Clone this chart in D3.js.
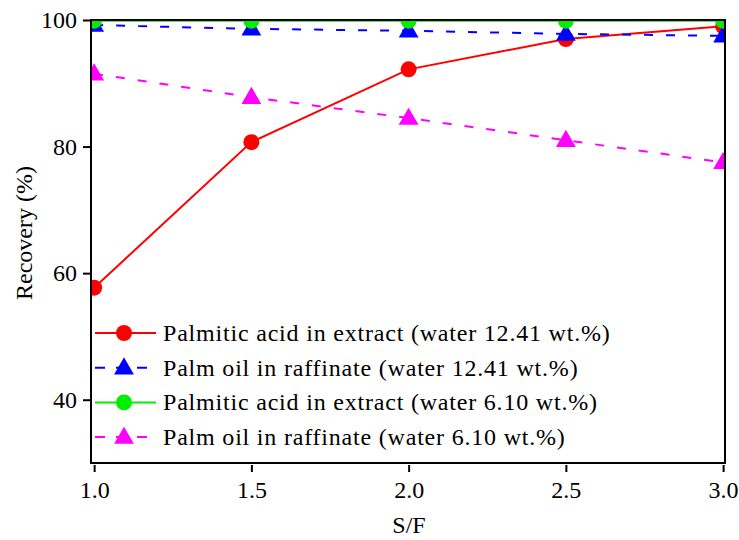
<!DOCTYPE html>
<html>
<head>
<meta charset="utf-8">
<script src="https://cdn.jsdelivr.net/npm/d3@7"></script>
<style>
  body { margin: 0; background: #fff; }
  text { font-family: "Liberation Serif", "Times New Roman", serif; }
</style>
</head>
<body>
<script>
var w = 739;
var h = 540;

// S/F ratios
var sf = [1.0, 1.5, 2.0, 2.5, 3.0];
// recovery values (%)
var acid1241 = [57.7, 80.7, 92.2, 97.0, 99.0];
var oil1241 = [99.2, 98.6, 98.3, 97.8, 97.5];
var acid610 = [99.9, 99.9, 99.9, 99.9, 99.9];
var oil610 = [91.5, 87.8, 84.5, 81.0, 77.5];

var xTicks = [1.0, 1.5, 2.0, 2.5, 3.0];
var yTicks = [40, 60, 80, 100];

var seriesNames = [
    "Palmitic acid in extract (water 12.41 wt.%)",
    "Palm oil in raffinate (water 12.41 wt.%)",
    "Palmitic acid in extract (water 6.10 wt.%)",
    "Palm oil in raffinate (water 6.10 wt.%)"
];

var series = [
    {name: seriesNames[0], values: acid1241, color: "#ff0000", dash: null, marker: "circle"},
    {name: seriesNames[1], values: oil1241, color: "#0000ff", dash: "9,13", marker: "triangle"},
    {name: seriesNames[2], values: acid610, color: "#00ee00", dash: null, marker: "circle"},
    {name: seriesNames[3], values: oil610, color: "#ff00ff", dash: "9,13", marker: "triangle"}
];

// plot box
var pLeft = 91, pRight = 725, pTop = 20, pBottom = 463;

var x = d3.scaleLinear().domain([0.99, 3.006]).range([pLeft, pRight]);
var y = d3.scaleLinear().domain([30, 100]).range([pBottom, pTop]);

var svg = d3.select("body").append("svg")
    .attr("width", w)
    .attr("height", h);

svg.append("defs").append("clipPath").attr("id", "plot")
    .append("rect")
    .attr("x", pLeft).attr("y", pTop)
    .attr("width", pRight - pLeft).attr("height", pBottom - pTop);

var plot = svg.append("g").attr("clip-path", "url(#plot)");

var line = d3.line()
    .x(function(d, i) { return x(sf[i]); })
    .y(function(d) { return y(d); });

var tri = d3.symbol().type(d3.symbolTriangle).size(170);

function drawMarker(g, type, color, cx, cy) {
    if (type == "circle") {
        g.append("circle").attr("cx", cx).attr("cy", cy).attr("r", 8).attr("fill", color);
    } else {
        g.append("path").attr("d", tri)
            .attr("transform", "translate(" + cx + "," + (cy + 1) + ")")
            .attr("fill", color);
    }
}

series.forEach(function(s) {
    plot.append("path")
        .attr("d", line(s.values))
        .attr("fill", "none")
        .attr("stroke", s.color)
        .attr("stroke-width", 2)
        .attr("stroke-dasharray", s.dash);
    s.values.forEach(function(v, i) {
        drawMarker(plot, s.marker, s.color, x(sf[i]), y(v));
    });
});

// frame
svg.append("rect")
    .attr("x", pLeft).attr("y", pTop)
    .attr("width", pRight - pLeft).attr("height", pBottom - pTop)
    .attr("fill", "none").attr("stroke", "#000").attr("stroke-width", 2);

// x axis
var xAxis = svg.append("g")
    .attr("transform", "translate(0," + (pBottom + 2) + ")")
    .call(d3.axisBottom(x).tickValues(xTicks).tickFormat(d3.format(".1f")).tickSize(7).tickSizeOuter(0));
xAxis.select(".domain").remove();
xAxis.selectAll("line").attr("stroke-width", 2);
xAxis.selectAll("text").attr("font-size", 24).attr("fill", "#000")
    .attr("font-family", "Liberation Serif").attr("y", 33).attr("dy", 0);

// y axis
var yAxis = svg.append("g")
    .attr("transform", "translate(" + pLeft + ",0)")
    .call(d3.axisLeft(y).tickValues(yTicks).tickSize(8).tickSizeOuter(0));
yAxis.select(".domain").remove();
yAxis.selectAll("line").attr("stroke-width", 2);
yAxis.selectAll("text").attr("font-size", 24).attr("fill", "#000")
    .attr("font-family", "Liberation Serif").attr("x", -14);

// axis titles
svg.append("text")
    .attr("x", 409).attr("y", 533)
    .attr("text-anchor", "middle")
    .attr("font-size", 24)
    .text("S/F");

svg.append("text")
    .attr("transform", "translate(32,233) rotate(-90)")
    .attr("text-anchor", "middle")
    .attr("font-size", 24)
    .text("Recovery (%)");

// legend
var legend = svg.append("g");
series.forEach(function(s, i) {
    var ly = 333 + i * 34.7;
    legend.append("line")
        .attr("x1", 95).attr("x2", 156)
        .attr("y1", ly).attr("y2", ly)
        .attr("stroke", s.color).attr("stroke-width", 2)
        .attr("stroke-dasharray", s.dash ? "10,11" : null);
    drawMarker(legend, s.marker, s.color, 124, ly);
    legend.append("text")
        .attr("x", 163).attr("y", ly + 8)
        .attr("font-size", 24)
        .attr("letter-spacing", 0.8)
        .text(s.name);
});
</script>
</body>
</html>
